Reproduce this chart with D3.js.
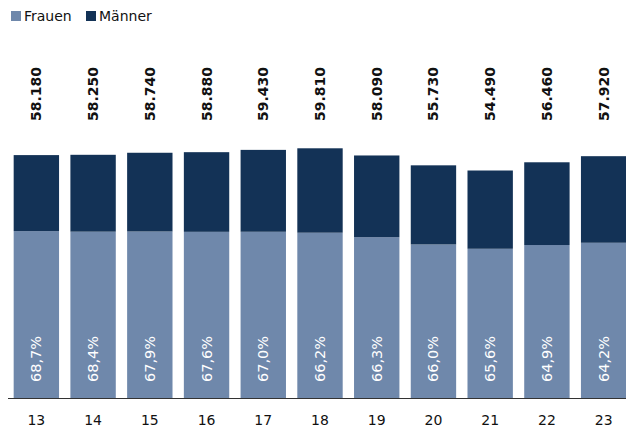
<!DOCTYPE html>
<html>
<head>
<meta charset="utf-8">
<script src="https://cdn.jsdelivr.net/npm/d3@7"></script>
<style>
  body { margin: 0; background: #fff; }
  svg text { font-family: "DejaVu Sans", "Noto Sans", sans-serif; }
</style>
</head>
<body>
<div id="chart"></div>
<script>
var years = ["13", "14", "15", "16", "17", "18", "19", "20", "21", "22", "23"];
var totals = [58180, 58250, 58740, 58880, 59430, 59810, 58090, 55730, 54490, 56460, 57920];
var frauenShare = [68.7, 68.4, 67.9, 67.6, 67.0, 66.2, 66.3, 66.0, 65.6, 64.9, 64.2];
var seriesNames = ["Frauen", "Männer"];
var colors = ["#6f88ab", "#133256"];

var width = 626, height = 429;

var svg = d3.select("#chart").append("svg")
    .attr("width", width)
    .attr("height", height);

var x = d3.scaleBand()
    .domain(years)
    .range([8, 632])
    .paddingInner(0.2)
    .paddingOuter(0.1);

var y = d3.scaleLinear()
    .domain([0, 60000])
    .range([398, 147.5]);

var rows = years.map(function(yr, i) {
  var f = totals[i] * frauenShare[i] / 100;
  return { year: yr, total: totals[i], share: frauenShare[i], frauen: f, maenner: totals[i] - f };
});

var stack = d3.stack().keys(["frauen", "maenner"]);
var layers = stack(rows);

svg.selectAll("g.layer")
    .data(layers)
  .enter().append("g")
    .attr("class", "layer")
    .attr("fill", function(d, i) { return colors[i]; })
  .selectAll("rect")
    .data(function(d) { return d; })
  .enter().append("rect")
    .attr("x", function(d) { return x(d.data.year); })
    .attr("width", x.bandwidth())
    .attr("y", function(d) { return y(d[1]); })
    .attr("height", function(d) { return y(d[0]) - y(d[1]); });

// axis line
svg.append("line")
    .attr("x1", 8).attr("x2", width)
    .attr("y1", 398.5).attr("y2", 398.5)
    .attr("stroke", "#333")
    .attr("stroke-width", 1);

// category labels
svg.selectAll("text.tick")
    .data(rows)
  .enter().append("text")
    .attr("class", "tick")
    .attr("x", function(d) { return x(d.year) + x.bandwidth() / 2; })
    .attr("y", 425)
    .attr("text-anchor", "middle")
    .style("font-size", "14px")
    .attr("fill", "#111")
    .text(function(d) { return d.year; });

var fmtTotal = function(v) { return d3.format(",")(v).replace(/,/g, "."); };

// totals, rotated
svg.selectAll("text.total")
    .data(rows)
  .enter().append("text")
    .attr("class", "total")
    .attr("transform", function(d) {
      return "translate(" + (x(d.year) + x.bandwidth() / 2 + 5) + ",121) rotate(-90)";
    })
    .style("font-size", "14px")
    .style("font-weight", "bold")
    .attr("fill", "#111")
    .text(function(d) { return fmtTotal(d.total); });

// Frauen share, rotated inside bars
svg.selectAll("text.share")
    .data(rows)
  .enter().append("text")
    .attr("class", "share")
    .attr("transform", function(d) {
      return "translate(" + (x(d.year) + x.bandwidth() / 2 + 5) + ",382) rotate(-90)";
    })
    .style("font-size", "14.5px")
    .attr("fill", "#fff")
    .text(function(d) { return d.share.toFixed(1).replace(".", ",") + "%"; });

// legend
var legend = svg.selectAll("g.legend")
    .data(seriesNames)
  .enter().append("g")
    .attr("class", "legend")
    .attr("transform", function(d, i) { return "translate(" + (11 + i * 75) + ",11)"; });

legend.append("rect")
    .attr("width", 10).attr("height", 10)
    .attr("fill", function(d, i) { return colors[i]; });

legend.append("text")
    .attr("x", 13)
    .attr("y", 10)
    .style("font-size", "14px")
    .attr("fill", "#111")
    .text(function(d) { return d; });
</script>
</body>
</html>
